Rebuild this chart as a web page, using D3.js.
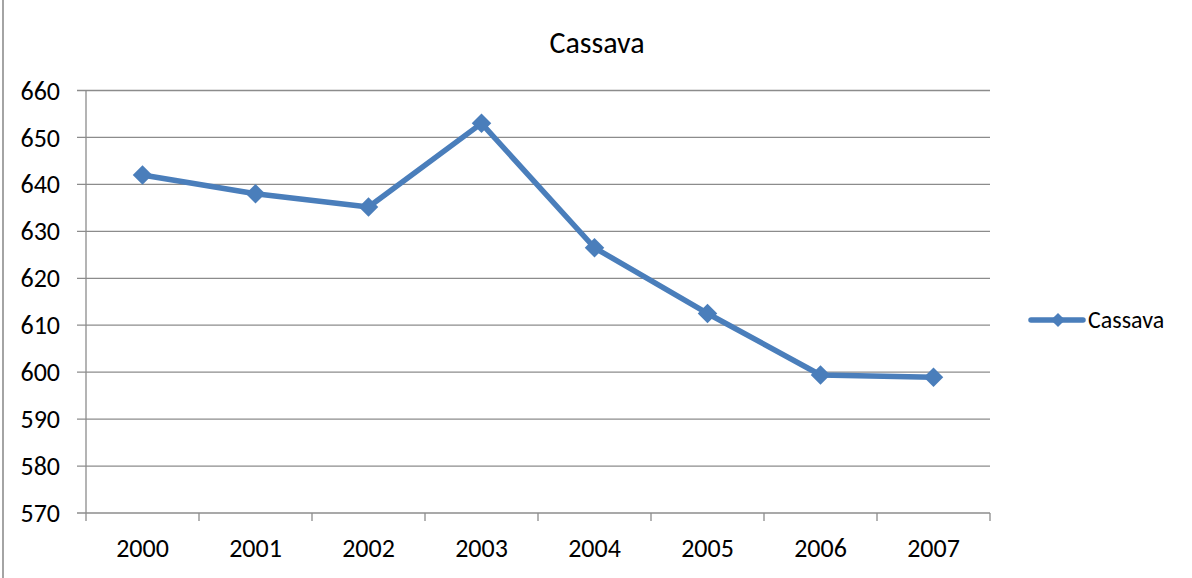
<!DOCTYPE html>
<html>
<head>
<meta charset="utf-8">
<script src="https://cdn.jsdelivr.net/npm/d3@7"></script>
<style>
  body { margin: 0; background: #fff; }
  svg { display: block; font-family: Carlito, Calibri, "Open Sans", sans-serif; }
</style>
</head>
<body>
<svg></svg>
<script>
var years = ["2000", "2001", "2002", "2003", "2004", "2005", "2006", "2007"];
var cassava = [642, 638, 635.2, 653, 626.5, 612.5, 599.4, 598.9];
var yTicks = [570, 580, 590, 600, 610, 620, 630, 640, 650, 660];

var W = 1192, H = 578;
var margin = {top: 90.5, right: 202, bottom: 65, left: 86},
    width = W - margin.left - margin.right,
    height = H - margin.top - margin.bottom;

var svg = d3.select("svg")
    .attr("width", W)
    .attr("height", H);

// left border of the chart area
svg.append("line")
    .attr("x1", 3).attr("x2", 3)
    .attr("y1", 0).attr("y2", H)
    .attr("stroke", "#868686").attr("stroke-width", 1.5);

svg.append("text")
    .attr("x", 597).attr("y", 42)
    .attr("dy", "0.35em")
    .attr("text-anchor", "middle")
    .style("font-size", "30px")
    .text("Cassava");

var g = svg.append("g")
    .attr("transform", "translate(" + margin.left + "," + margin.top + ")");

var x = d3.scaleBand().domain(years).range([0, width]);
var y = d3.scaleLinear().domain([570, 660]).range([height, 0]);

// gridlines + y axis
g.selectAll(".grid")
    .data(yTicks)
  .enter().append("line")
    .attr("x1", -9).attr("x2", width)
    .attr("y1", function(d) { return y(d); })
    .attr("y2", function(d) { return y(d); })
    .attr("stroke", "#8c8c8c").attr("stroke-width", 1.3);

g.append("line")
    .attr("x1", 0).attr("x2", 0)
    .attr("y1", 0).attr("y2", height)
    .attr("stroke", "#8c8c8c").attr("stroke-width", 1.3);

g.selectAll(".ylab")
    .data(yTicks)
  .enter().append("text")
    .attr("x", -26)
    .attr("y", function(d) { return y(d); })
    .attr("dy", "0.35em")
    .attr("text-anchor", "end")
    .style("font-size", "26px")
    .text(function(d) { return d; });

// x ticks at band edges
var edges = years.map(function(d) { return x(d); }).concat([width]);
g.selectAll(".xtick")
    .data(edges)
  .enter().append("line")
    .attr("x1", function(d) { return d; })
    .attr("x2", function(d) { return d; })
    .attr("y1", height).attr("y2", height + 8)
    .attr("stroke", "#8c8c8c").attr("stroke-width", 1.3);

g.selectAll(".xlab")
    .data(years)
  .enter().append("text")
    .attr("x", function(d) { return x(d) + x.bandwidth() / 2; })
    .attr("y", height + 35)
    .attr("dy", "0.35em")
    .attr("text-anchor", "middle")
    .style("font-size", "26px")
    .text(function(d) { return d; });

var color = "#4a7ebb";
var line = d3.line()
    .x(function(d, i) { return x(years[i]) + x.bandwidth() / 2; })
    .y(function(d) { return y(d); });

g.append("path")
    .datum(cassava)
    .attr("fill", "none")
    .attr("stroke", color)
    .attr("stroke-width", 5.5)
    .attr("stroke-linejoin", "round")
    .attr("d", line);

var diamond = d3.symbol().type(d3.symbolSquare).size(190);
g.selectAll(".pt")
    .data(cassava)
  .enter().append("path")
    .attr("d", diamond)
    .attr("fill", color)
    .attr("transform", function(d, i) {
      return "translate(" + (x(years[i]) + x.bandwidth() / 2) + "," + y(d) + ") rotate(45)";
    });

// legend
var lg = svg.append("g").attr("transform", "translate(1031,320)");
lg.append("line")
    .attr("x1", 0).attr("x2", 52)
    .attr("stroke", color).attr("stroke-width", 5.5)
    .attr("stroke-linecap", "round");
lg.append("path")
    .attr("d", d3.symbol().type(d3.symbolSquare).size(100))
    .attr("fill", color)
    .attr("transform", "translate(27,0) rotate(45)");
lg.append("text")
    .attr("x", 57).attr("dy", "0.35em")
    .style("font-size", "24px")
    .text("Cassava");
</script>
</body>
</html>
